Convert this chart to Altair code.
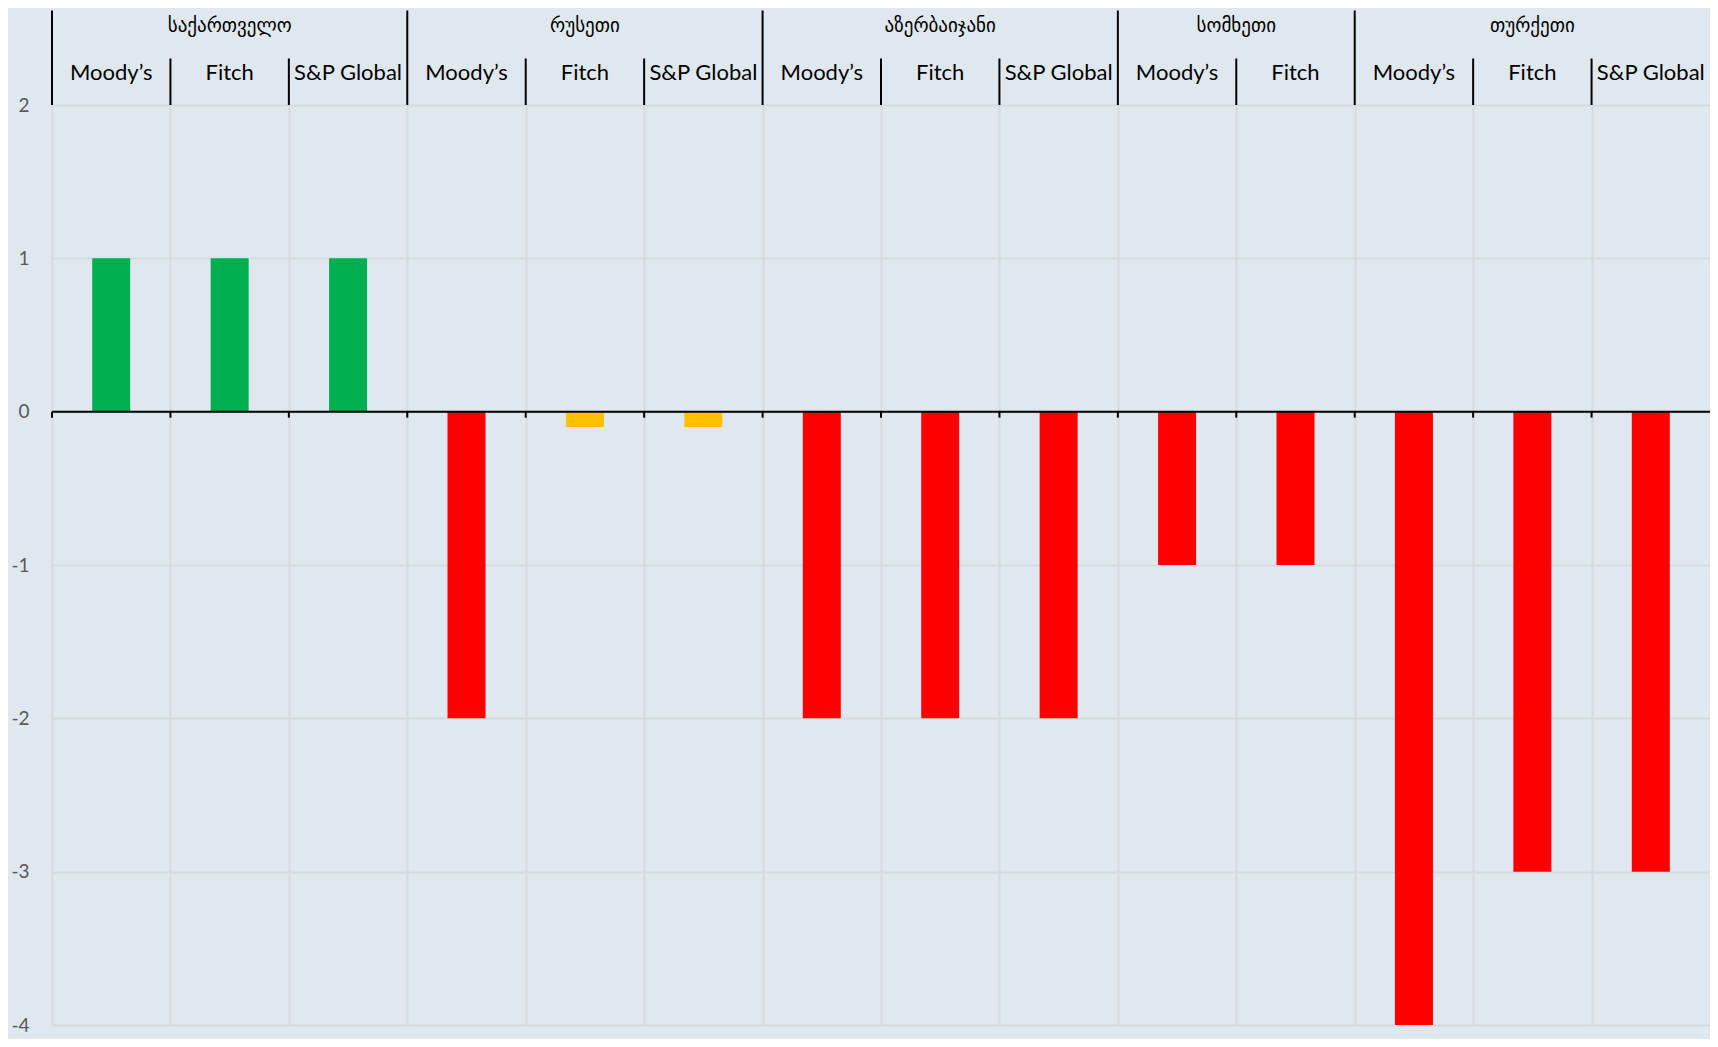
import altair as alt
import pandas as pd

# ---- data ----
countries = ["საქართველო", "რუსეთი", "აზერბაიჯანი", "სომხეთი", "თურქეთი"]
agencies = [
    ["Moody’s", "Fitch", "S&P Global"],
    ["Moody’s", "Fitch", "S&P Global"],
    ["Moody’s", "Fitch", "S&P Global"],
    ["Moody’s", "Fitch"],
    ["Moody’s", "Fitch", "S&P Global"],
]
values = [1, 1, 1, -2, -0.1, -0.1, -2, -2, -2, -1, -1, -4, -3, -3]
status = ["up", "up", "up",
          "down", "watch", "watch",
          "down", "down", "down",
          "down", "down",
          "down", "down", "down"]
y_ticks = [-4, -3, -2, -1, 0, 1, 2]

# ---- tables built from the arrays ----
rows, groups, bounds = [], [], []
i = 0
for c, ags in zip(countries, agencies):
    groups.append({"country": c, "center": i + len(ags) / 2})
    for k, a in enumerate(ags):
        rows.append({"country": c, "agency": a, "idx": i, "center": i + 0.5,
                     "value": values[i], "status": status[i]})
        bounds.append({"b": i, "group": k == 0})
        i += 1
df = pd.DataFrame(rows)
gdf = pd.DataFrame(groups)
bdf = pd.DataFrame(bounds)
n_cat = len(df)

W, H = 1658, 920
BG = "#DEE8EE"
GRID = "#D6DADF"
TXT_FONT = "Lato, DejaVu Sans"

xscale = alt.Scale(domain=[0, n_cat], nice=False, zero=False, padding=0)
yscale = alt.Scale(domain=[-4, 2], nice=False, zero=False, padding=0)

bars = alt.Chart(df).mark_bar(width=38, orient="vertical").encode(
    x=alt.X("center:Q", scale=xscale,
            axis=alt.Axis(values=list(range(n_cat)), grid=True, labels=False, ticks=False,
                          domain=False, title=None, gridColor=GRID, gridWidth=2)),
    y=alt.Y("value:Q", scale=yscale,
            axis=alt.Axis(values=y_ticks, grid=True, ticks=False, domain=False, title=None,
                          gridColor=GRID, gridWidth=2, labelFontSize=19,
                          labelColor="#595959", labelFont="Lato", labelPadding=23,
                          labelExpr="'' + datum.value")),
    y2=alt.datum(0),
    color=alt.Color("status:N", legend=None,
                    scale=alt.Scale(domain=["up", "watch", "down"],
                                    range=["#00B050", "#FFC000", "#FF0000"])),
)

zero = alt.Chart(pd.DataFrame({"v": [0]})).mark_rule(color="black", strokeWidth=2).encode(
    y=alt.Y("v:Q", scale=yscale)
)

ticks = alt.Chart(bdf).mark_rule(color="black", strokeWidth=2, y2Offset=6).encode(
    x=alt.X("b:Q", scale=xscale), y=alt.datum(0), y2=alt.datum(0)
)

group_lines = alt.Chart(bdf).transform_filter("datum.group").mark_rule(
    color="black", strokeWidth=2).encode(
    x=alt.X("b:Q", scale=xscale), y=alt.value(-94.5), y2=alt.value(0)
)
sub_lines = alt.Chart(bdf).transform_filter("!datum.group").mark_rule(
    color="black", strokeWidth=2).encode(
    x=alt.X("b:Q", scale=xscale), y=alt.value(-46.5), y2=alt.value(0)
)

sub_text = alt.Chart(df).mark_text(font=TXT_FONT, fontSize=22, color="black",
                                   baseline="middle").encode(
    x=alt.X("center:Q", scale=xscale), y=alt.value(-32.5), text="agency:N"
)
group_text = alt.Chart(gdf).mark_text(font="DejaVu Sans", fontSize=19, color="black",
                                      baseline="middle").encode(
    x=alt.X("center:Q", scale=xscale), y=alt.value(-79), text="country:N"
)

chart = alt.layer(bars, zero, ticks, group_lines, sub_lines, sub_text, group_text).properties(
    width=W, height=H,
    autosize=alt.AutoSizeParams(type="none"),
    padding={"left": 44, "top": 97, "right": 0, "bottom": 14},
    background=BG,
).configure_view(stroke=None)

chart.save("out.html", embed_options={"renderer": "svg", "actions": False})
